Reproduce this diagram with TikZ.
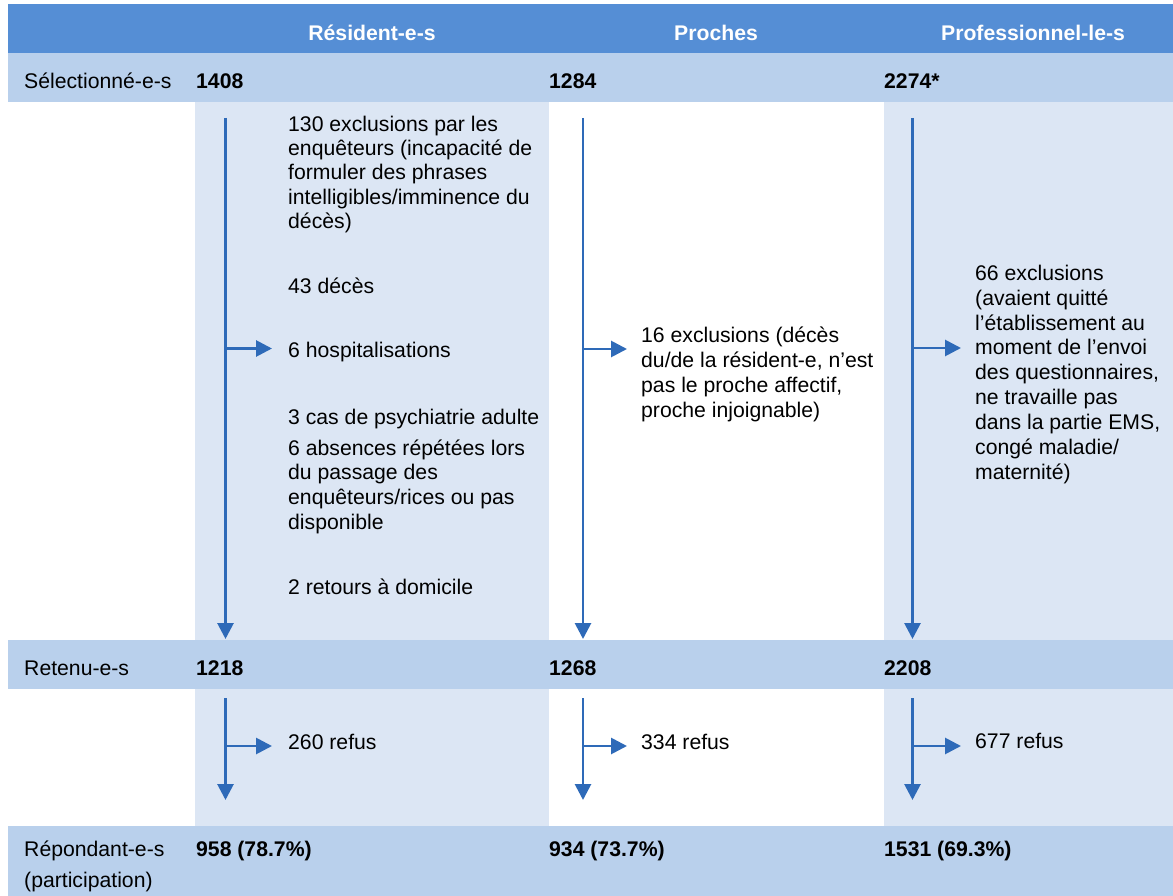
\documentclass[tikz,border=0pt]{standalone}
\usepackage{fontspec}
\setmainfont{Liberation Sans}
\usetikzlibrary{arrows.meta}
\definecolor{hdr}{RGB}{85,142,213}
\definecolor{band}{RGB}{185,208,236}
\definecolor{panel}{RGB}{220,230,244}
\definecolor{arr}{RGB}{46,106,184}
\newcommand{\topstr}{\rule{0pt}{18pt}}
\tikzset{
  txt/.style={font={\fontsize{21.2}{24.5}\selectfont}, inner sep=0pt, text=black},
  lbl/.style={txt, anchor=base west},
  num/.style={txt, anchor=base west, font={\fontsize{21.2}{24.5}\selectfont\bfseries}},
  hdrtxt/.style={txt, anchor=base, text=white, font={\fontsize{21.2}{24.5}\selectfont\bfseries}},
  block/.style={txt, anchor=north west, align=left},
  flow/.style={draw=arr, line width=2.8pt, -{Triangle[length=16pt,width=16pt]}},
}
\begin{document}
\begin{tikzpicture}[x=1pt,y=-1pt]
\useasboundingbox (0,0) rectangle (1173,896);
% backgrounds
\fill[hdr] (8,4) rectangle (1173,53);
\fill[band] (8,53) rectangle (1173,102);
\fill[panel] (195,102) rectangle (549,640);
\fill[panel] (884,102) rectangle (1173,640);
\fill[band] (8,640) rectangle (1173,689);
\fill[panel] (195,689) rectangle (549,826);
\fill[panel] (884,689) rectangle (1173,826);
\fill[band] (8,826) rectangle (1173,896);
% header
\node[hdrtxt] (h1) at (372,40.5) {Résident-e-s};
\node[hdrtxt] (h2) at (716,40.5) {Proches};
\node[hdrtxt] (h3) at (1033,40.5) {Professionnel-le-s};
% row 1
\node[lbl] (sel) at (24,89) {Sélectionné-e-s};
\node[num] (n1) at (196,89) {1408};
\node[num] (n2) at (549,89) {1284};
\node[num] (n3) at (884,89) {2274*};
% row 2
\node[lbl] (ret) at (24,675) {Retenu-e-s};
\node[num] (r1) at (196,675) {1218};
\node[num] (r2) at (549,675) {1268};
\node[num] (r3) at (884,675) {2208};
% row 3
\node[lbl] (rep) at (24,856) {Répondant-e-s};
\node[lbl] (part) at (24,887) {(participation)};
\node[num] (p1) at (196,856) {958 (78.7\%)};
\node[num] (p2) at (549,856) {934 (73.7\%)};
\node[num] (p3) at (884,856) {1531 (69.3\%)};
% column 1 texts
\node[block, font={\fontsize{21.2}{24.3}\selectfont}] (e1) at (288,113) {\topstr 130 exclusions par les\\enquêteurs (incapacité de\\formuler des phrases\\intelligibles/imminence du\\décès)};
\node[block] (e2) at (288,275) {\topstr 43 décès};
\node[block] (e3) at (288,339) {\topstr 6 hospitalisations};
\node[block] (e4) at (288,406) {\topstr 3 cas de psychiatrie adulte};
\node[block, font={\fontsize{21.2}{24.7}\selectfont}] (e5) at (288,437) {\topstr 6 absences répétées lors\\du passage des\\enquêteurs/rices ou pas\\disponible};
\node[block] (e6) at (288,576) {\topstr 2 retours à domicile};
% column 2 text
\node[block, font={\fontsize{21.2}{25}\selectfont}] (f1) at (641,324) {\topstr 16 exclusions (décès\\du/de la résident-e, n’est\\pas le proche affectif,\\proche injoignable)};
% column 3 text
\node[block, font={\fontsize{21.2}{24.9}\selectfont}] (g1) at (975,262) {\topstr 66 exclusions\\(avaient quitté\\l’établissement au\\moment de l’envoi\\des questionnaires,\\ne travaille pas\\dans la partie EMS,\\congé maladie/\\maternité)};
% refusals
\node[block] (rf1) at (288,731) {\topstr 260 refus};
\node[block] (rf2) at (641,731) {\topstr 334 refus};
\node[block] (rf3) at (975,730) {\topstr 677 refus};
% arrows section 1
\coordinate (a1s) at (225.5,118); \coordinate (a1e) at (225.5,639);
\coordinate (a1b) at (225.5,348.5); \coordinate (a1t) at (272,348.5);
\coordinate (a2s) at (583,118); \coordinate (a2e) at (583,639);
\coordinate (a2b) at (583,349); \coordinate (a2t) at (627,349);
\coordinate (a3s) at (912.5,118); \coordinate (a3e) at (912.5,639);
\coordinate (a3b) at (912.5,348); \coordinate (a3t) at (961,348);
\draw[flow] (a1s) -- (a1e); \draw[flow] (a1b) -- (a1t);
\draw[flow] (a2s) -- (a2e); \draw[flow] (a2b) -- (a2t);
\draw[flow] (a3s) -- (a3e); \draw[flow] (a3b) -- (a3t);
% arrows section 2
\coordinate (b1s) at (225.5,698); \coordinate (b1e) at (225.5,800);
\coordinate (b1b) at (225.5,746); \coordinate (b1t) at (272,746);
\coordinate (b2s) at (583,698); \coordinate (b2e) at (583,800);
\coordinate (b2b) at (583,746); \coordinate (b2t) at (627,746);
\coordinate (b3s) at (912.5,698); \coordinate (b3e) at (912.5,800);
\coordinate (b3b) at (912.5,746); \coordinate (b3t) at (961,746);
\draw[flow] (b1s) -- (b1e); \draw[flow] (b1b) -- (b1t);
\draw[flow] (b2s) -- (b2e); \draw[flow] (b2b) -- (b2t);
\draw[flow] (b3s) -- (b3e); \draw[flow] (b3b) -- (b3t);
\end{tikzpicture}
\end{document}
